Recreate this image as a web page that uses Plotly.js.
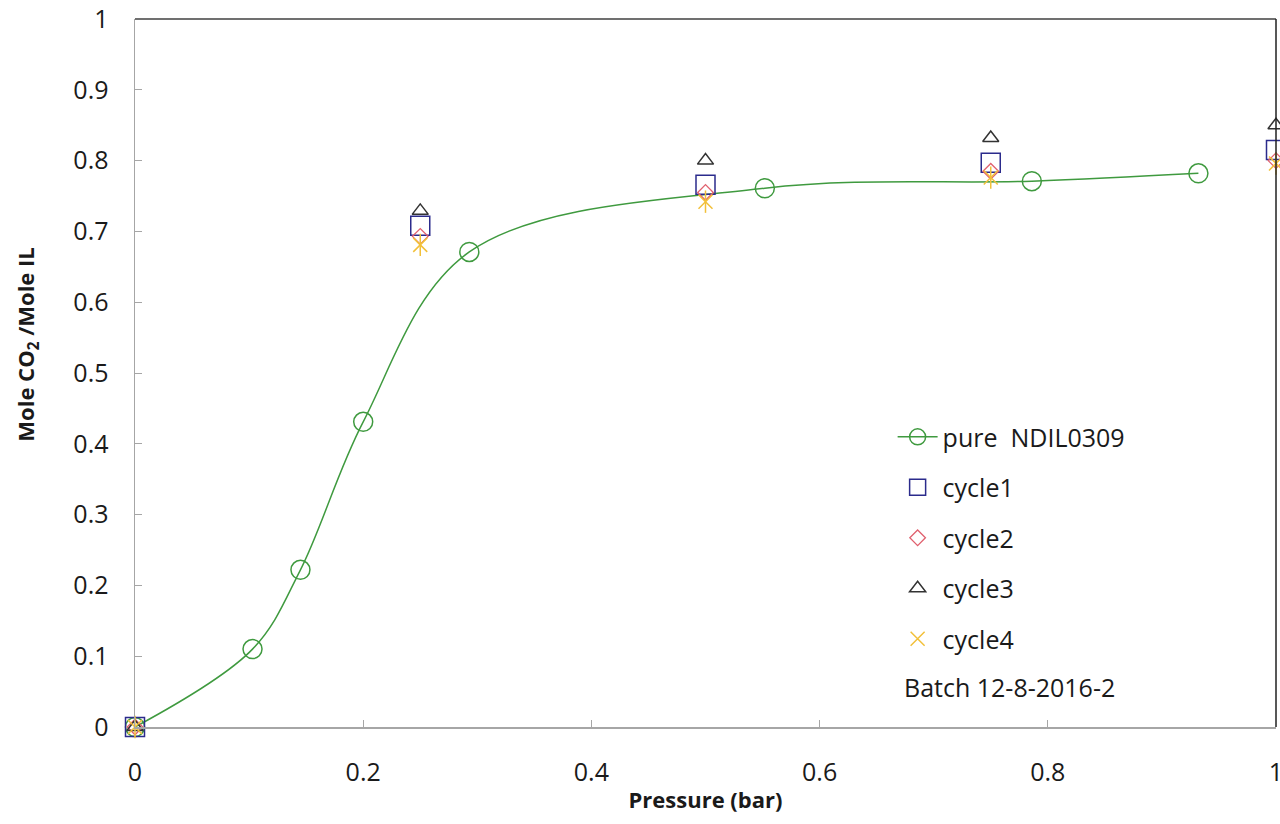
<!DOCTYPE html>
<html>
<head>
<meta charset="utf-8">
<script src="https://cdn.plot.ly/plotly-3.0.1.min.js"></script>
<style>
  html, body { margin: 0; padding: 0; background: #ffffff; }
  #chart { width: 1280px; height: 824px; }
</style>
</head>
<body>
<div id="chart"></div>
<script>
// CO2 absorption isotherm of NDIL0309: pure sample and four recycle runs
const pureP   = [0, 0.103, 0.145, 0.200, 0.293, 0.552, 0.786, 0.932];
const pureY   = [0, 0.110, 0.222, 0.431, 0.671, 0.761, 0.771, 0.782];

const cycleP  = [0, 0.25, 0.50, 0.75, 1.00];
const cycle1Y = [0, 0.708, 0.766, 0.797, 0.815];
const cycle2Y = [0, 0.693, 0.755, 0.785, 0.800];
const cycle3Y = [0, 0.729, 0.800, 0.832, 0.850];
const cycle4Y = [0, 0.681, 0.742, 0.776, 0.796];

const xTicks = [0, 0.2, 0.4, 0.6, 0.8, 1];
const xTickText = ['0', '0.2', '0.4', '0.6', '0.8', '1'];
const yTicks = [0, 0.1, 0.2, 0.3, 0.4, 0.5, 0.6, 0.7, 0.8, 0.9, 1];
const yTickText = ['0', '0.1', '0.2', '0.3', '0.4', '0.5', '0.6', '0.7', '0.8', '0.9', '1'];

const FONT = '"Open Sans", "Noto Sans", sans-serif';
const TXT = '#1a1a1a';

const traces = [
  {
    name: 'pure  NDIL0309', x: pureP, y: pureY, mode: 'lines+markers',
    line: { color: '#3f9a3f', width: 1.5, shape: 'spline', smoothing: 1 },
    marker: { symbol: 'circle-open', size: 19, color: '#3f9a3f', line: { width: 1.5 } },
    legendgroup: 'g0', cliponaxis: false
  },
  {
    name: 'cycle1', x: cycleP, y: cycle1Y, mode: 'markers',
    marker: { symbol: 'square-open', size: 19, color: '#2b2b8c', line: { width: 1.5 } },
    legendgroup: 'g1', cliponaxis: false
  },
  {
    name: 'cycle2', x: cycleP, y: cycle2Y, mode: 'markers',
    marker: { symbol: 'diamond-open', size: 12, color: '#e0606e', line: { width: 1.3 } },
    legendgroup: 'g2', cliponaxis: false
  },
  {
    name: 'cycle3', x: cycleP, y: cycle3Y, mode: 'markers',
    marker: { symbol: 'triangle-up-open', size: 14, color: '#333333', line: { width: 1.5 } },
    legendgroup: 'g3', cliponaxis: false
  },
  {
    name: 'cycle4', x: cycleP, y: cycle4Y, mode: 'markers',
    marker: { symbol: 'x-thin-open', size: 14, color: '#f2c03a', line: { width: 1.5 } },
    legendgroup: 'g4', cliponaxis: false
  },
  {
    // vertical stroke completing the star marker
    name: 'cycle4', x: cycleP, y: cycle4Y, mode: 'markers', showlegend: false,
    marker: { symbol: 'line-ns-open', size: 16, color: '#f2c03a', line: { width: 1.5 } },
    legendgroup: 'g4', cliponaxis: false, hoverinfo: 'skip'
  }
];

const layout = {
  width: 1280, height: 824,
  paper_bgcolor: '#ffffff', plot_bgcolor: '#ffffff',
  margin: { l: 135, r: 4, t: 19, b: 97 },
  font: { family: FONT, size: 25, color: TXT },
  showlegend: true,
  xaxis: {
    range: [0, 1], tickvals: xTicks, ticktext: xTickText,
    showgrid: false, zeroline: false,
    showline: true, linecolor: '#a6a6a6', linewidth: 1.5,
    ticks: 'inside', ticklen: 7, tickcolor: '#a6a6a6',
    tickfont: { family: FONT, size: 25, color: TXT },
    ticklabelstandoff: 22, ticklabeloverflow: 'allow',
    title: { text: 'Pressure (bar)', font: { family: FONT, size: 22, color: TXT, weight: 'bold' }, standoff: 6 }
  },
  yaxis: {
    range: [0, 1], tickvals: yTicks, ticktext: yTickText,
    showgrid: false, zeroline: false,
    showline: true, linecolor: '#a6a6a6', linewidth: 1.5,
    ticks: 'inside', ticklen: 7, tickcolor: '#a6a6a6',
    tickfont: { family: FONT, size: 25, color: TXT },
    ticklabelstandoff: 20
  },
  legend: {
    x: 0.664, y: 0.442, xanchor: 'left', yanchor: 'top',
    bgcolor: 'rgba(0,0,0,0)', borderwidth: 0,
    font: { family: FONT, size: 25, color: TXT },
    itemwidth: 40, tracegroupgap: 15, traceorder: 'grouped'
  },
  shapes: [
    // dark top and right frame edges
    { type: 'line', xref: 'paper', yref: 'paper', x0: 0, x1: 1, y0: 1, y1: 1, line: { color: '#404040', width: 1.5 } },
    { type: 'line', xref: 'paper', yref: 'paper', x0: 1, x1: 1, y0: 0, y1: 1, line: { color: '#202020', width: 1.5 } }
  ],
  annotations: [
    // y-axis title, placed by hand to sit close to the left edge
    { text: '<b>Mole CO<sub>2</sub> /Mole IL</b>', xref: 'paper', yref: 'paper', x: 0, y: 0.54,
      xanchor: 'center', yanchor: 'middle', xshift: -108, textangle: -90, showarrow: false,
      font: { family: FONT, size: 22, color: TXT } },
    { text: 'Batch 12-8-2016-2', xref: 'paper', yref: 'paper', x: 0.672, y: 0.0565,
      xanchor: 'left', yanchor: 'middle', showarrow: false,
      font: { family: FONT, size: 25, color: TXT } }
  ]
};

Plotly.newPlot('chart', traces, layout, { displayModeBar: false, staticPlot: true });
</script>
</body>
</html>
